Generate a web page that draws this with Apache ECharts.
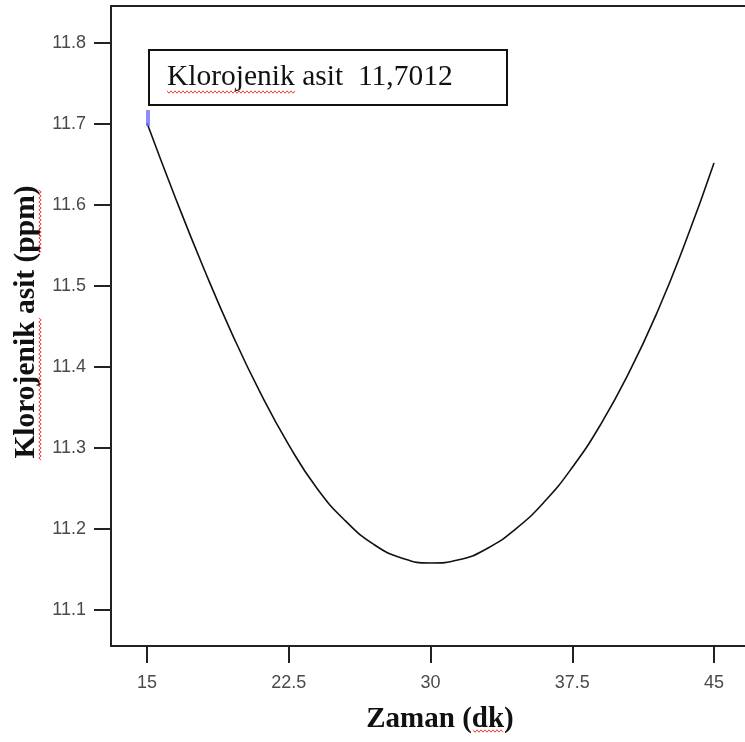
<!DOCTYPE html>
<html><head><meta charset="utf-8">
<script src="https://cdn.jsdelivr.net/npm/echarts@6/dist/echarts.min.js"></script>
<style>html,body{margin:0;padding:0;background:#fff}#c{width:745px;height:742px}</style>
</head><body><div id="c"></div>
<script>
const timeValues = [15, 16.5, 18, 19.5, 21, 22.5, 24, 25.5, 27, 28.5, 30, 31.5, 33, 34.5, 36, 37.5, 39, 40.5, 42, 43.5, 45];
const acidValues = [11.7012, 11.609, 11.522, 11.441, 11.368, 11.304, 11.250, 11.210, 11.181, 11.164, 11.158, 11.162, 11.176, 11.200, 11.233, 11.276, 11.329, 11.393, 11.468, 11.555, 11.652];
const xTickValues = [15, 22.5, 30, 37.5, 45];
const yTickValues = [11.1, 11.2, 11.3, 11.4, 11.5, 11.6, 11.7, 11.8];
const xAxisTitle = 'Zaman (dk)';
const yAxisTitle = 'Klorojenik asit (ppm)';
const calloutText = 'Klorojenik asit  11,7012';
const calloutPoint = [15, 11.7012];

const chart = echarts.init(document.getElementById('c'), null, {renderer: 'canvas'});
const frameColor = '#222';
const labelStyle = {color: '#4a4a4a', fontFamily: '"Liberation Sans", Arial, sans-serif', fontSize: 18};
const serif = '"Liberation Serif", "Times New Roman", serif';

chart.setOption({
  animation: false,
  backgroundColor: '#fff',
  grid: {left: 111, top: 6, bottom: 96, right: 0, show: false},
  xAxis: [{
    type: 'value', min: 13.095, max: 46.64,
    name: xAxisTitle, nameLocation: 'middle', nameGap: 59,
    nameTextStyle: {color: '#111', fontFamily: serif, fontSize: 29, fontWeight: 'bold', padding: [0, 0, 0, 24]},
    axisLine: {show: true, onZero: false, lineStyle: {color: frameColor, width: 2}},
    axisTick: {show: true, inside: false, length: 17, customValues: xTickValues, lineStyle: {color: frameColor, width: 2}},
    axisLabel: Object.assign({margin: 28, customValues: xTickValues}, labelStyle),
    splitLine: {show: false}
  }, {
    type: 'value', position: 'top', min: 13.095, max: 46.64,
    axisLine: {show: true, onZero: false, lineStyle: {color: frameColor, width: 2}},
    axisTick: {show: false}, axisLabel: {show: false}, splitLine: {show: false}
  }],
  yAxis: {
    type: 'value', min: 11.0556, max: 11.8457,
    name: yAxisTitle, nameLocation: 'middle', nameGap: 68, nameRotate: 90,
    nameTextStyle: {color: '#111', fontFamily: serif, fontSize: 29.5, fontWeight: 'bold', padding: [0, 0, 0, 8]},
    axisLine: {show: true, onZero: false, lineStyle: {color: frameColor, width: 2}},
    axisTick: {show: true, inside: false, length: 17, customValues: yTickValues, lineStyle: {color: frameColor, width: 2}},
    axisLabel: Object.assign({margin: 25, customValues: yTickValues, formatter: v => v.toFixed(1)}, labelStyle),
    splitLine: {show: false}
  },
  series: [
    {
      type: 'line', smooth: 0.5, showSymbol: false, symbol: 'none',
      data: timeValues.map((t, i) => [t, acidValues[i]]),
      lineStyle: {color: '#111', width: 1.6}
    },
    {
      type: 'scatter', data: [calloutPoint], symbol: 'rect', symbolSize: [4, 16], symbolOffset: [1, -5],
      itemStyle: {color: '#6f6fff'}, z: 5
    }
  ]
});

// spell-check style wavy underline (decoration only)
function squiggle(x0, y0, len, vertical) {
  const pts = [];
  for (let d = 0, k = 0; d <= len; d += 2, k++) {
    const off = (k % 2 === 0) ? -1.2 : 1.2;
    pts.push(vertical ? [x0 + off, y0 + d] : [x0 + d, y0 + off]);
  }
  return {type: 'polyline', z: 12, silent: true, shape: {points: pts}, style: {stroke: '#e8403a', lineWidth: 1, fill: null}};
}

const p = chart.convertToPixel({gridIndex: 0}, calloutPoint);
chart.setOption({
  graphic: [
    {type: 'rect', z: 10, shape: {x: p[0] + 2, y: p[1] - 73, width: 358, height: 55},
     style: {fill: '#fff', stroke: '#111', lineWidth: 2}},
    {type: 'text', z: 11, x: p[0] + 20, y: p[1] - 46,
     style: {text: calloutText, fill: '#111', fontSize: 29.5, fontFamily: serif, verticalAlign: 'middle', align: 'left'}},
    squiggle(p[0] + 20, p[1] - 31, 128, false),
    squiggle(40, 190, 62, true),
    squiggle(40, 318, 142, true),
    squiggle(473, 731, 30, false)
  ]
});
</script></body></html>
